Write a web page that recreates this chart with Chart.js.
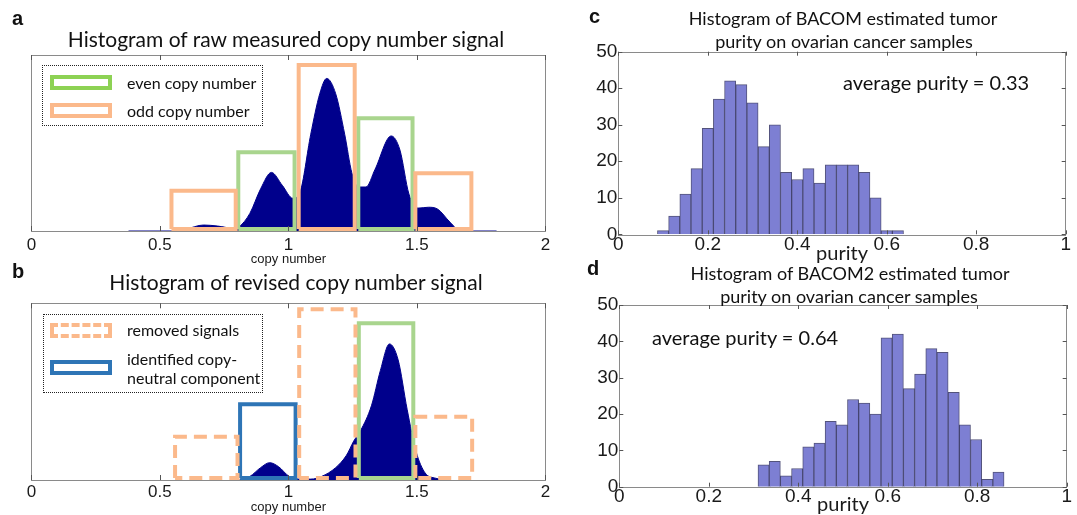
<!DOCTYPE html>
<html>
<head>
<meta charset="utf-8">
<script src="https://cdn.jsdelivr.net/npm/chart.js@4.4.1/dist/chart.umd.min.js"></script>
<style>
  html, body { margin: 0; padding: 0; background: #fff; }
  #fig { position: relative; width: 1077px; height: 515px; overflow: hidden; font-family: Lato, sans-serif; color: #111; }
  canvas { position: absolute; }
  .txt { position: absolute; white-space: nowrap; line-height: 1; }
  .letter { font-family: 'Liberation Sans', Arial, sans-serif; font-weight: bold; font-size: 20px; }
  .title { font-size: 21px; transform: translateX(-50%); }
  .title.small { font-size: 18px; }
  .note { font-size: 20px; }
  .leg { font-size: 16px; }
  .legend { position: absolute; border: 1.5px dotted #222; box-sizing: border-box; }
  .sw { position: absolute; box-sizing: border-box; border-width: 4px; border-style: solid; }
</style>
</head>
<body>
<div id="fig">
  <canvas id="chart-a" width="570" height="270" style="left:0;top:0"></canvas>
  <canvas id="chart-b" width="570" height="245" style="left:0;top:270px"></canvas>
  <canvas id="chart-c" width="497" height="270" style="left:580px;top:0"></canvas>
  <canvas id="chart-d" width="497" height="245" style="left:580px;top:270px"></canvas>

  <div class="txt letter" style="left:12px;top:8px">a</div>
  <div class="txt letter" style="left:12px;top:261px">b</div>
  <div class="txt letter" style="left:589px;top:6px">c</div>
  <div class="txt letter" style="left:587px;top:258px">d</div>

  <div class="txt title" style="left:286px;top:28px">Histogram of raw measured copy number signal</div>
  <div class="txt title" style="left:296px;top:271px">Histogram of revised copy number signal</div>
  <div class="txt title small" style="left:843px;top:9px">Histogram of BACOM estimated tumor</div>
  <div class="txt title small" style="left:844px;top:32px">purity on ovarian cancer samples</div>
  <div class="txt title small" style="left:850px;top:264px">Histogram of BACOM2 estimated tumor</div>
  <div class="txt title small" style="left:849px;top:287px">purity on ovarian cancer samples</div>

  <div class="txt note" style="left:843px;top:72px">average purity = 0.33</div>
  <div class="txt note" style="left:652px;top:327px">average purity = 0.64</div>

  <div class="legend" style="left:42px;top:65px;width:221px;height:61px"></div>
  <div class="sw" style="left:50px;top:75px;width:62px;height:15px;border-color:#8dd254"></div>
  <div class="sw" style="left:50px;top:103px;width:62px;height:15px;border-color:#fbb98b"></div>
  <div class="txt leg" style="left:127px;top:75px">even copy number</div>
  <div class="txt leg" style="left:127px;top:103px">odd copy number</div>

  <div class="legend" style="left:43px;top:314px;width:220px;height:79px"></div>
  <div class="sw" style="left:50px;top:323px;width:62px;height:15px;border-color:#fbb98b;border-style:dashed"></div>
  <div class="sw" style="left:50px;top:360px;width:62px;height:15px;border-color:#2e75b6"></div>
  <div class="txt leg" style="left:127px;top:322px">removed signals</div>
  <div class="txt leg" style="left:127px;top:351px">identified copy-</div>
  <div class="txt leg" style="left:127px;top:370px">neutral component</div>
</div>

<script>
// copy number panels (a, b): x in copy number, y as share of the plot height
const xTicksAB = [0, 0.5, 1, 1.5, 2];
const xTickLabelsAB = ['0', '0.5', '1', '1.5', '2'];

const rawX = [0.378, 0.559, 0.60, 0.67, 0.725, 0.788, 0.809, 0.85, 0.892, 0.934, 0.976, 1.017, 1.045, 1.087, 1.122, 1.149, 1.184, 1.219, 1.247, 1.274, 1.302, 1.337, 1.40, 1.434, 1.469, 1.504, 1.545, 1.58, 1.629, 1.67, 1.81];
const rawY = [0, 0, 0.01, 0.034, 0.028, 0.015, 0.025, 0.10, 0.24, 0.333, 0.26, 0.186, 0.22, 0.55, 0.78, 0.867, 0.78, 0.55, 0.33, 0.25, 0.25, 0.35, 0.54, 0.46, 0.21, 0.13, 0.135, 0.125, 0.05, 0, 0];

const revX = [0.809, 0.85, 0.892, 0.927, 0.962, 1.003, 1.038, 1.087, 1.129, 1.184, 1.226, 1.254, 1.281, 1.323, 1.358, 1.393, 1.427, 1.462, 1.497, 1.532, 1.573, 1.615];
const revY = [0, 0.02, 0.07, 0.098, 0.075, 0.02, 0.005, 0.005, 0.02, 0.07, 0.14, 0.22, 0.28, 0.42, 0.62, 0.77, 0.68, 0.40, 0.16, 0.04, 0.01, 0];

const boxBase = 0.012;
const oddLeft = [0.545, 1.040, 1.494], oddRight = [0.795, 1.258, 1.712], oddTop = [0.229, 0.943, 0.328];
const evenLeft = [0.805, 1.272], evenRight = [1.024, 1.483], evenTop = [0.447, 0.640];
const removedLeft = [0.559, 1.042, 1.494], removedRight = [0.802, 1.261, 1.715], removedTop = [0.245, 0.966, 0.358];
const neutralLeft = [0.812], neutralRight = [1.028], neutralTop = [0.428];
const keptLeft = [1.274], keptRight = [1.486], keptTop = [0.887];

// purity panels (c, d)
const purityTicks = [0, 0.2, 0.4, 0.6, 0.8, 1];
const purityTickLabels = ['0', '0.2', '0.4', '0.6', '0.8', '1'];
const countTicks = [0, 10, 20, 30, 40, 50];
const countTickLabels = ['0', '10', '20', '30', '40', '50'];
const bacomBins = [0.100, 0.125, 0.150, 0.175, 0.200, 0.225, 0.250, 0.275, 0.300, 0.325, 0.350, 0.375, 0.400, 0.425, 0.450, 0.475, 0.500, 0.525, 0.550, 0.575, 0.600, 0.625];
const bacomCounts = [1, 5, 11, 18, 29, 37, 42, 41, 36, 24, 30, 17, 15, 18, 14, 19, 19, 19, 17, 10, 1, 1];
const bacom2Bins = [0.3225, 0.3475, 0.3725, 0.3975, 0.4225, 0.4475, 0.4725, 0.4975, 0.5225, 0.5475, 0.5725, 0.5975, 0.6225, 0.6475, 0.6725, 0.6975, 0.7225, 0.7475, 0.7725, 0.7975, 0.8225, 0.8475];
const bacom2Counts = [6, 7, 3, 5, 11, 12, 18, 17, 24, 23, 20, 41, 42, 27, 31, 38, 37, 26, 17, 13, 2, 4];

const NAVY = '#00008c';
const ORANGE = '#fbb98b';
const GREEN = '#a9d58e';
const BLUE = '#2e75b6';
const tickFont = size => ({ family: "'Liberation Sans', Arial, sans-serif", size, lineHeight: 1 });

// MATLAB style box with inward ticks
const matlabAxes = {
  id: 'matlabAxes',
  afterDatasetsDraw(chart, args, opts) {
    const { ctx, chartArea: a, scales } = chart;
    const len = opts.tickLength || 5;
    ctx.save();
    ctx.strokeStyle = '#8a8a8a';
    ctx.lineWidth = 1;
    ctx.strokeRect(Math.round(a.left) + 0.5, Math.round(a.top) + 0.5, Math.round(a.right - a.left), Math.round(a.bottom - a.top));
    ctx.strokeStyle = '#555';
    ctx.beginPath();
    scales.x.ticks.forEach(t => {
      const px = Math.round(scales.x.getPixelForValue(t.value)) + 0.5;
      ctx.moveTo(px, a.bottom); ctx.lineTo(px, a.bottom - len);
      ctx.moveTo(px, a.top); ctx.lineTo(px, a.top + len);
    });
    if (opts.yTicks) {
      scales.y.ticks.forEach(t => {
        const py = Math.round(scales.y.getPixelForValue(t.value)) + 0.5;
        ctx.moveTo(a.left, py); ctx.lineTo(a.left + len, py);
        ctx.moveTo(a.right, py); ctx.lineTo(a.right - len, py);
      });
    }
    ctx.stroke();
    ctx.restore();
  }
};

const noGrid = { display: false, drawTicks: false };

function curve(xs, ys) {
  return {
    type: 'line',
    data: xs.map((x, i) => ({ x, y: ys[i] })),
    borderColor: NAVY, backgroundColor: NAVY, borderWidth: 1,
    fill: 'origin', pointRadius: 0, cubicInterpolationMode: 'monotone', order: 2
  };
}

function boxes(lefts, rights, tops, color, dash) {
  return lefts.map((l, i) => ({
    type: 'line',
    data: [
      { x: l, y: boxBase }, { x: l, y: tops[i] }, { x: rights[i], y: tops[i] },
      { x: rights[i], y: boxBase }, { x: l, y: boxBase }
    ],
    borderColor: color, borderWidth: 4, borderDash: dash || [], borderJoinStyle: 'miter',
    fill: false, pointRadius: 0, tension: 0, order: 1
  }));
}

function copyChart(id, datasets, pad, axisH, tickPad) {
  return new Chart(document.getElementById(id), {
    type: 'line',
    data: { datasets },
    options: {
      responsive: false, animation: false,
      layout: { padding: pad },
      plugins: { legend: { display: false }, tooltip: { enabled: false }, matlabAxes: { tickLength: 5 } },
      scales: {
        x: {
          type: 'linear', min: 0, max: 2,
          afterBuildTicks: s => { s.ticks = xTicksAB.map(v => ({ value: v })); },
          afterFit: s => { s.height = axisH; },
          grid: noGrid, border: { display: false },
          ticks: { font: tickFont(17), color: '#1a1a1a', padding: tickPad, callback: (v, i) => xTickLabelsAB[i] },
          title: { display: true, text: 'copy number', font: tickFont(13), color: '#1a1a1a', padding: 0 }
        },
        y: { min: 0, max: 1, display: false }
      }
    },
    plugins: [matlabAxes]
  });
}

function purityChart(id, bins, counts, pad, yAxisW, axisH, tickPad) {
  return new Chart(document.getElementById(id), {
    type: 'bar',
    data: {
      datasets: [{
        data: bins.map((x, i) => ({ x, y: counts[i] })),
        backgroundColor: 'rgb(125,127,211)', borderColor: 'rgba(40,40,90,0.8)', borderWidth: 1,
        barPercentage: 1, categoryPercentage: 1
      }]
    },
    options: {
      responsive: false, animation: false,
      layout: { padding: pad },
      plugins: { legend: { display: false }, tooltip: { enabled: false }, matlabAxes: { tickLength: 4, yTicks: true } },
      scales: {
        x: {
          type: 'linear', min: 0, max: 1, offset: false,
          afterBuildTicks: s => { s.ticks = purityTicks.map(v => ({ value: v })); },
          afterFit: s => { s.height = axisH; },
          grid: noGrid, border: { display: false },
          ticks: { font: tickFont(19), color: '#1a1a1a', padding: tickPad, callback: (v, i) => purityTickLabels[i] },
          title: { display: true, text: 'purity', font: { family: 'Lato, sans-serif', size: 20, lineHeight: 1 }, color: '#1a1a1a', padding: 0 }
        },
        y: {
          min: 0, max: 50,
          afterBuildTicks: s => { s.ticks = countTicks.map(v => ({ value: v })); },
          afterFit: s => { s.width = yAxisW; },
          grid: noGrid, border: { display: false },
          ticks: { font: tickFont(19), color: '#1a1a1a', padding: 1, callback: (v, i) => countTickLabels[i] }
        }
      }
    },
    plugins: [matlabAxes]
  });
}

copyChart('chart-a', [
  curve(rawX, rawY),
  ...boxes(oddLeft, oddRight, oddTop, ORANGE),
  ...boxes(evenLeft, evenRight, evenTop, GREEN)
], { left: 31.4, right: 24.6, top: 55, bottom: 4.5 }, 34.5, 6);

copyChart('chart-b', [
  curve(revX, revY),
  ...boxes(removedLeft, removedRight, removedTop, ORANGE, [13, 7]),
  ...boxes(neutralLeft, neutralRight, neutralTop, BLUE),
  ...boxes(keptLeft, keptRight, keptTop, GREEN)
], { left: 31.4, right: 24.6, top: 33.3, bottom: 1.2 }, 33.8, 3.7);

purityChart('chart-c', bacomBins, bacomCounts, { left: 0, right: 11.3, top: 51.7, bottom: 6 }, 38.3, 29.7, 1.2);
purityChart('chart-d', bacom2Bins, bacom2Counts, { left: 0, right: 10.3, top: 35, bottom: 0 }, 39.3, 28.3, 0.8);
</script>
</body>
</html>
